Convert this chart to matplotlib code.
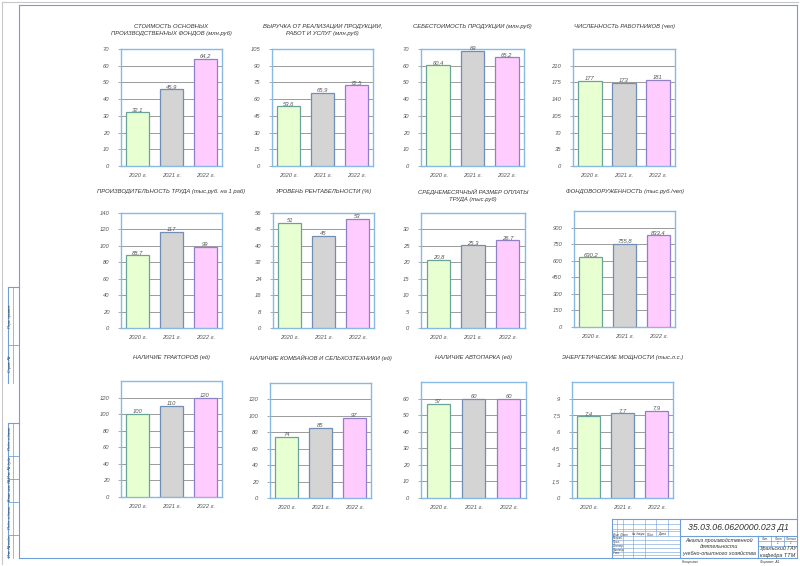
import matplotlib
matplotlib.use("Agg")
import matplotlib.pyplot as plt
from matplotlib.lines import Line2D
from matplotlib.ticker import FuncFormatter

plt.rcParams['font.family'] = ['Liberation Sans Narrow', 'Liberation Sans', 'DejaVu Sans']
plt.rcParams['font.style'] = 'italic'

years = ["2020 г.", "2021 г.", "2022 г."]

titles = [
    "СТОИМОСТЬ ОСНОВНЫХ\nПРОИЗВОДСТВЕННЫХ ФОНДОВ (млн.руб)",
    "ВЫРУЧКА ОТ РЕАЛИЗАЦИИ ПРОДУКЦИИ,\nРАБОТ И УСЛУГ (млн.руб)",
    "СЕБЕСТОИМОСТЬ ПРОДУКЦИИ (млн.руб)",
    "ЧИСЛЕННОСТЬ РАБОТНИКОВ (чел)",
    "ПРОИЗВОДИТЕЛЬНОСТЬ ТРУДА (тыс.руб. на 1 раб)",
    "УРОВЕНЬ РЕНТАБЕЛЬНОСТИ (%)",
    "СРЕДНЕМЕСЯЧНЫЙ РАЗМЕР ОПЛАТЫ\nТРУДА (тыс.руб)",
    "ФОНДОВООРУЖЕННОСТЬ (тыс.руб./чел)",
    "НАЛИЧИЕ ТРАКТОРОВ (ед)",
    "НАЛИЧИЕ КОМБАЙНОВ И СЕЛЬХОЗТЕХНИКИ (ед)",
    "НАЛИЧИЕ АВТОПАРКА (ед)",
    "ЭНЕРГЕТИЧЕСКИЕ МОЩНОСТИ (тыс.л.с.)",
]

fixed_assets = [32.1, 45.9, 64.2]
revenue = [53.6, 65.9, 72.5]
cost = [60.4, 69, 65.2]
workers = [177, 173, 181]
productivity = [88.7, 117, 99]
profitability = [51, 45, 53]
salary = [20.8, 25.3, 26.7]
capital_ratio = [630.2, 755.8, 833.4]
tractors = [100, 110, 120]
combines = [74, 85, 97]
vehicles = [57, 60, 60]
power = [7.4, 7.7, 7.9]

series = [fixed_assets, revenue, cost, workers, productivity, profitability,
          salary, capital_ratio, tractors, combines, vehicles, power]

# y-axis: upper limit, tick step, last labelled tick
ylims = [70, 105, 70, 245, 140, 56, 35, 1050, 140, 140, 70, 10.5]
ysteps = [10, 15, 10, 35, 20, 8, 5, 150, 20, 20, 10, 1.5]
ytops = [70, 105, 70, 210, 140, 56, 30, 900, 120, 120, 60, 9]

W, H = 800, 566
fig = plt.figure(figsize=(8, 5.66), dpi=100)
fig.patch.set_facecolor('white')


def fx(x):
    return x / W


def fy(y):
    return 1 - y / H


def fmt(v):
    s = ("%.1f" % v).rstrip('0').rstrip('.')
    return s.replace('.', ',')


frame = '#6f9fd8'


def line(x0, y0, x1, y1, lw=0.8, c=frame):
    fig.add_artist(Line2D([fx(x0), fx(x1)], [fy(y0), fy(y1)], lw=lw, color=c))


def txt(x, y, s, size=3.5, **kw):
    fig.text(fx(x), fy(y), s, fontsize=size, color='#333333', **kw)


# chart boxes in pixels: left, top, right, bottom
boxes = [
    (121, 49, 222, 166), (272, 49, 373, 166), (421, 49, 524, 166), (573, 49, 675, 166),
    (121, 213, 222, 328), (273, 213, 374, 328), (421, 213, 525, 328), (574, 211, 675, 327),
    (121, 381, 222, 497), (270, 383, 371, 498), (421, 382, 526, 498), (572, 382, 673, 498),
]
title_y = [24, 24, 24, 24, 189, 189, 189, 189, 355, 355, 355, 355]

fills = ['#e8ffd2', '#d4d4d4', '#ffccff']
edges = ['#6aa39a', '#6f8fb8', '#8f80cc']

for i, vals in enumerate(series):
    l, t, r, b = boxes[i]
    ax = fig.add_axes([fx(l), fy(b), fx(r) - fx(l), (b - t) / H])
    x = range(len(years))
    bars = ax.bar(x, vals, width=0.68, color=fills, edgecolor=edges, linewidth=0.9, zorder=3)
    for bar, v in zip(bars, vals):
        ax.text(bar.get_x() + bar.get_width() / 2, v, fmt(v), ha='center', va='bottom',
                fontsize=4.2, color='#555555', clip_on=False)
    ax.set_xlim(-0.5, 2.5)
    ax.set_ylim(0, ylims[i])
    ticks = []
    k = 0
    while k * ysteps[i] <= ytops[i] + 1e-9:
        ticks.append(k * ysteps[i])
        k += 1
    ax.set_yticks(ticks)
    ax.yaxis.set_major_formatter(FuncFormatter(lambda v, p: fmt(v)))
    ax.set_xticks(list(x))
    ax.set_xticklabels(years)
    ax.grid(axis='y', color='#8c8c8c', linewidth=0.6, zorder=0)
    ax.tick_params(axis='y', direction='out', length=2.5, width=0.5, color='#8c8c8c',
                   labelsize=4.2, labelcolor='#555555', pad=6)
    ax.tick_params(axis='x', length=0, labelsize=4.2, labelcolor='#555555', pad=5)
    for s in ax.spines.values():
        s.set_color('#88b8e4')
        s.set_linewidth(1.0)
    txt((l + r) / 2, title_y[i], titles[i], size=4.2, ha='center', va='top',
        linespacing=1.5)

# drawing frame
line(2, 2, 798, 2, lw=0.8, c='#c8c8c8')
line(2, 2, 2, 564, lw=0.8, c='#c8c8c8')
line(19, 5, 797, 5)
line(19, 5, 19, 558)
line(797, 5, 797, 558)
line(19, 558, 797, 558)

# left strip
for (y0, y1) in [(287, 383), (423, 558)]:
    line(8, y0, 19, y0)
    line(8, y0, 8, y1)
    line(12.5, y0, 12.5, y1, lw=0.5)
strip_cuts = [345, 456, 479, 502, 535]
for y in strip_cuts:
    line(8, y, 19, y, lw=0.6)
strip_text = [(316, "Перв. примен."), (364, "Справ. №"), (439, "Подп. и дата"),
              (467, "Инв. № дубл."), (490, "Взам. инв. №"), (518, "Подп. и дата"),
              (546, "Инв. № подл.")]
for y, s in strip_text:
    txt(10.3, y, s, size=2.6, ha='center', va='center', rotation=90)

# title block
line(612, 519, 797, 519)
line(612, 519, 612, 558)
line(680, 519, 680, 558)
line(680, 536, 797, 536)
line(758, 536, 758, 558)
line(758, 541, 797, 541, lw=0.5)
line(758, 546, 797, 546, lw=0.5)
line(771, 536, 771, 546, lw=0.5)
line(784, 536, 784, 546, lw=0.5)
for y in [524, 529, 531, 536, 540, 544, 548, 552, 555]:
    line(612, y, 680, y, lw=0.4)
for xv in [617, 623, 633, 645, 656, 668]:
    bot = 536 if xv in (617, 656, 668) else 558
    line(xv, 519, xv, bot, lw=0.4)
txt(620, 534.5, "Изм. Лист", size=2.2, ha='center', va='center')
txt(639, 534.5, "№ докум.", size=2.2, ha='center', va='center')
txt(650.5, 534.5, "Подп.", size=2.2, ha='center', va='center')
txt(662, 534.5, "Дата", size=2.2, ha='center', va='center')
for y, s in [(538, "Разраб."), (542, "Пров."), (546, "Т.контр."), (550, "Н.контр."), (553.5, "Утв.")]:
    txt(613, y, s, size=2.1, ha='left', va='center')
txt(738, 528, "35.03.06.0620000.023 Д1", size=6.3, ha='center', va='center')
txt(719, 547, "Анализ производственной\nдеятельности\nучебно-опытного хозяйства",
    size=3.9, ha='center', va='center', linespacing=1.3)
txt(764.5, 538.5, "Лит.", size=2.2, ha='center', va='center')
txt(777.5, 538.5, "Лист", size=2.2, ha='center', va='center')
txt(790.5, 538.5, "Листов", size=2.2, ha='center', va='center')
txt(777.5, 543.5, "1", size=2.2, ha='center', va='center')
txt(790.5, 543.5, "1", size=2.2, ha='center', va='center')
txt(777.5, 552, "Уральский ГАУ\nкафедра ТТМ", size=4.0, ha='center', va='center',
    linespacing=1.3)
txt(690, 562.5, "Копировал", size=2.4, ha='center', va='center')
txt(770, 562.5, "Формат  А1", size=2.4, ha='center', va='center')

fig.savefig("out.png", dpi=100, facecolor='white')
